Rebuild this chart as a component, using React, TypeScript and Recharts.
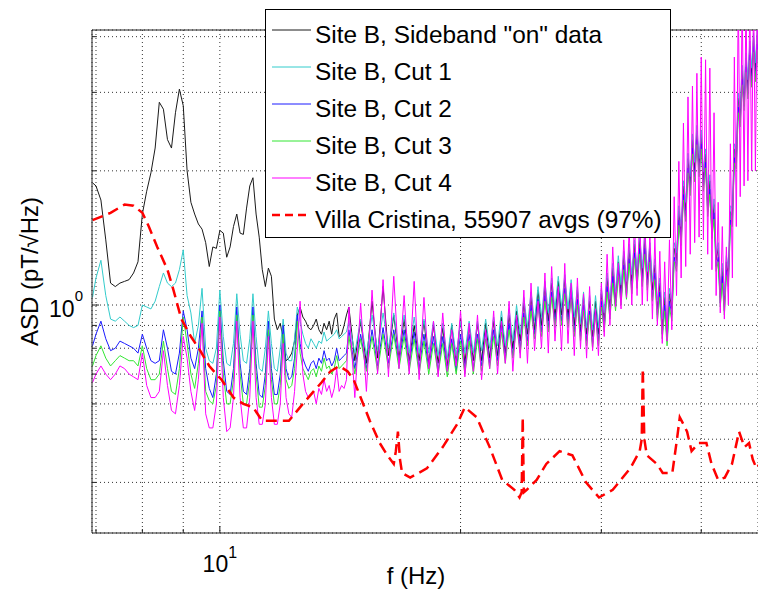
import { LineChart, Line, XAxis, YAxis, CartesianGrid, Legend, ReferenceLine, Label } from 'recharts'

// frequency grid (Hz): 0.1 Hz below 14.5 Hz, 0.25 Hz above
const freqs = [
  6.93, 7.0, 7.1, 7.2, 7.3, 7.4, 7.5, 7.6, 7.7, 7.8, 7.9,
  8.0, 8.1, 8.2, 8.3, 8.4, 8.5, 8.6, 8.7, 8.8, 8.9,
  9.0, 9.1, 9.2, 9.3, 9.4, 9.5, 9.6, 9.7, 9.8, 9.9,
  10.0, 10.1, 10.2, 10.3, 10.4, 10.5, 10.6, 10.7, 10.8, 10.9,
  11.0, 11.1, 11.2, 11.3, 11.4, 11.5, 11.6, 11.7, 11.8, 11.9,
  12.0, 12.1, 12.2, 12.3, 12.4, 12.5, 12.6, 12.7, 12.8, 12.9,
  13.0, 13.1, 13.2, 13.3, 13.4, 13.5, 13.6, 13.7, 13.8, 13.9,
  14.0, 14.1, 14.2, 14.3, 14.4, 14.5,
  14.75,
  15, 15.25, 15.5, 15.75, 16, 16.25, 16.5, 16.75, 17, 17.25, 17.5, 17.75,
  18, 18.25, 18.5, 18.75, 19, 19.25, 19.5, 19.75, 20, 20.25, 20.5, 20.75,
  21, 21.25, 21.5, 21.75, 22, 22.25, 22.5, 22.75, 23, 23.25, 23.5, 23.75,
  24, 24.25, 24.5, 24.75, 25, 25.25, 25.5, 25.75, 26, 26.25, 26.5, 26.75,
  27, 27.25, 27.5, 27.75, 28, 28.25, 28.5, 28.75, 29, 29.25, 29.5, 29.75,
  30, 30.25, 30.5, 30.75, 31, 31.25, 31.5, 31.75, 32, 32.25, 32.5, 32.75,
  33, 33.25, 33.5, 33.75, 34, 34.25, 34.5, 34.75, 35, 35.25, 35.5, 35.75,
  36, 36.25, 36.5, 36.75, 37, 37.25, 37.5, 37.75, 38, 38.25, 38.5, 38.75,
  39, 39.25, 39.5, 39.75, 40, 40.25, 40.5, 40.75, 41, 41.25, 41.5, 41.75,
  42, 42.25, 42.5, 42.75, 43, 43.25, 43.5, 43.75, 44, 44.25, 44.5, 44.75,
  45, 45.25, 45.5, 45.75, 46, 46.25, 46.5, 46.75, 47, 47.25,
]

const onData = [
  1.88, 1.85, 1.72, 1.40, 1.12, 1.10, 1.12, 1.13, 1.14, 1.18, 1.25,
  1.60, 1.80, 1.98, 2.25, 2.85, 2.75, 2.35, 2.25, 2.70, 3.05,
  2.80, 2.00, 1.70, 1.60, 1.52, 1.48, 1.38, 1.22, 1.35, 1.34,
  1.47, 1.45, 1.28, 1.35, 1.50, 1.60, 1.45, 1.44, 1.65, 1.85,
  1.93, 1.60, 1.42, 1.20, 1.10, 1.21, 1.16, 0.93, 0.88, 0.91,
  0.84, 0.75, 0.76, 0.78, 0.83, 0.95, 0.99, 0.94, 0.92, 0.89,
  0.88, 0.90, 0.93, 0.88, 0.86, 0.91, 0.88, 0.92, 0.86, 0.93,
  0.96, 0.85, 0.86, 0.90, 0.95, 0.99,
  0.75,
  0.92, 0.74, 1.02, 0.76, 1.10, 0.77, 0.95, 0.76, 0.93, 0.75, 0.90, 0.75,
  0.92, 0.74, 0.90, 0.74, 0.89, 0.73, 0.90, 0.74, 0.93, 0.74, 0.90, 0.75,
  0.91, 0.75, 0.91, 0.76, 0.92, 0.77, 0.94, 0.78, 0.95, 0.80, 0.97, 0.83,
  1.01, 0.86, 1.04, 0.88, 1.08, 0.90, 1.10, 0.92, 1.12, 0.94, 1.13, 0.95,
  1.14, 0.94, 1.11, 0.90, 1.08, 0.87, 1.04, 0.86, 1.02, 0.85, 1.02, 0.86,
  1.06, 0.92, 1.15, 0.99, 1.21, 1.02, 1.25, 1.06, 1.29, 1.09, 1.33, 1.13,
  1.37, 1.15, 1.40, 1.16, 1.40, 1.14, 1.34, 1.08, 1.23, 0.98, 1.12, 0.89,
  1.04, 0.86, 1.06, 0.98, 1.34, 1.26, 1.62, 1.44, 1.85, 1.63, 2.13, 1.86,
  2.35, 2.00, 2.46, 2.05, 2.41, 1.91, 2.18, 1.67, 1.90, 1.49, 1.68, 1.26,
  1.34, 1.04, 1.21, 1.00, 1.25, 1.16, 1.62, 1.58, 2.24, 2.14, 2.91, 2.65,
  3.36, 2.88, 3.58, 3.07, 3.81, 3.26, 3.98, 3.35, 4.03, 3.35,
]

const cut1 = [
  1.04, 1.15, 1.26, 1.05, 0.93, 0.92, 0.94, 0.92, 0.90, 0.89, 0.90,
  1.00, 0.99, 0.98, 1.02, 1.10, 1.18, 1.12, 1.10, 1.12, 1.20,
  1.33, 1.05, 0.96, 0.82, 0.90, 1.09, 0.80, 0.75, 0.74, 0.80,
  1.08, 0.85, 0.74, 0.73, 0.82, 1.06, 0.86, 0.75, 0.74, 0.84,
  1.06, 0.85, 0.72, 0.71, 0.80, 0.97, 0.82, 0.72, 0.71, 0.80,
  0.93, 0.78, 0.75, 0.75, 0.84, 0.99, 0.92, 0.86, 0.82, 0.80,
  0.84, 0.82, 0.80, 0.83, 0.82, 0.87, 0.83, 0.84, 0.85, 0.86,
  0.88, 0.84, 0.85, 0.86, 0.87, 0.92,
  0.78,
  0.93, 0.77, 0.95, 0.79, 0.96, 0.80, 0.96, 0.79, 0.95, 0.78, 0.94, 0.78,
  0.93, 0.78, 0.92, 0.77, 0.91, 0.76, 0.91, 0.77, 0.92, 0.78, 0.92, 0.78,
  0.92, 0.79, 0.93, 0.80, 0.94, 0.81, 0.97, 0.81, 0.98, 0.83, 1.00, 0.86,
  1.04, 0.89, 1.07, 0.92, 1.10, 0.94, 1.13, 0.96, 1.15, 0.98, 1.16, 0.99,
  1.17, 0.98, 1.14, 0.94, 1.10, 0.91, 1.07, 0.89, 1.05, 0.88, 1.05, 0.89,
  1.09, 0.96, 1.18, 1.03, 1.24, 1.07, 1.29, 1.11, 1.32, 1.13, 1.37, 1.17,
  1.40, 1.20, 1.44, 1.21, 1.44, 1.19, 1.38, 1.13, 1.27, 1.02, 1.15, 0.93,
  1.07, 0.89, 1.09, 1.02, 1.38, 1.31, 1.67, 1.50, 1.90, 1.70, 2.19, 1.94,
  2.42, 2.09, 2.53, 2.13, 2.47, 1.99, 2.24, 1.75, 1.96, 1.55, 1.73, 1.31,
  1.38, 1.09, 1.24, 1.05, 1.29, 1.21, 1.67, 1.65, 2.30, 2.23, 2.99, 2.76,
  3.45, 3.01, 3.68, 3.20, 3.91, 3.40, 4.08, 3.49, 4.14, 3.49,
]

const cut2 = [
  0.81, 0.86, 0.92, 0.84, 0.79, 0.80, 0.83, 0.82, 0.81, 0.80, 0.78,
  0.86, 0.80, 0.75, 0.74, 0.75, 0.88, 0.80, 0.71, 0.70, 0.78,
  0.97, 0.88, 0.76, 0.72, 0.80, 0.97, 0.72, 0.65, 0.62, 0.70,
  1.00, 0.75, 0.64, 0.63, 0.72, 0.99, 0.74, 0.64, 0.63, 0.72,
  0.99, 0.74, 0.63, 0.62, 0.70, 0.92, 0.72, 0.63, 0.63, 0.70,
  0.90, 0.72, 0.68, 0.69, 0.76, 0.95, 0.82, 0.76, 0.73, 0.71,
  0.74, 0.75, 0.72, 0.76, 0.74, 0.79, 0.75, 0.76, 0.73, 0.75,
  0.80, 0.75, 0.76, 0.77, 0.78, 0.88,
  0.72,
  0.86, 0.72, 0.88, 0.73, 0.89, 0.74, 0.88, 0.74, 0.88, 0.73, 0.87, 0.72,
  0.86, 0.72, 0.85, 0.71, 0.85, 0.71, 0.84, 0.71, 0.86, 0.72, 0.86, 0.72,
  0.86, 0.73, 0.87, 0.74, 0.88, 0.75, 0.90, 0.76, 0.91, 0.77, 0.93, 0.80,
  0.96, 0.83, 1.00, 0.86, 1.03, 0.87, 1.05, 0.89, 1.07, 0.91, 1.08, 0.92,
  1.09, 0.91, 1.06, 0.87, 1.03, 0.85, 1.00, 0.83, 0.97, 0.82, 0.97, 0.83,
  1.02, 0.89, 1.10, 0.95, 1.16, 0.99, 1.20, 1.03, 1.23, 1.05, 1.27, 1.09,
  1.31, 1.12, 1.34, 1.13, 1.34, 1.11, 1.28, 1.04, 1.18, 0.95, 1.07, 0.86,
  1.00, 0.83, 1.02, 0.95, 1.28, 1.22, 1.55, 1.40, 1.77, 1.58, 2.03, 1.80,
  2.25, 1.94, 2.35, 1.98, 2.30, 1.85, 2.09, 1.62, 1.82, 1.44, 1.61, 1.22,
  1.28, 1.01, 1.16, 0.97, 1.20, 1.13, 1.55, 1.53, 2.14, 2.07, 2.78, 2.57,
  3.21, 2.79, 3.42, 2.97, 3.64, 3.15, 3.80, 3.24, 3.85, 3.24,
]

const cut3 = [
  0.73, 0.77, 0.81, 0.76, 0.73, 0.75, 0.77, 0.76, 0.75, 0.75, 0.73,
  0.81, 0.72, 0.68, 0.68, 0.70, 0.83, 0.72, 0.64, 0.63, 0.72,
  0.94, 0.82, 0.70, 0.65, 0.74, 0.94, 0.64, 0.61, 0.60, 0.66,
  0.97, 0.70, 0.60, 0.60, 0.68, 0.95, 0.70, 0.60, 0.60, 0.68,
  0.95, 0.70, 0.59, 0.59, 0.66, 0.88, 0.68, 0.60, 0.60, 0.66,
  0.86, 0.68, 0.65, 0.66, 0.72, 0.92, 0.78, 0.72, 0.70, 0.68,
  0.71, 0.72, 0.69, 0.73, 0.71, 0.76, 0.72, 0.73, 0.70, 0.72,
  0.77, 0.72, 0.73, 0.74, 0.75, 0.85,
  0.70,
  0.84, 0.71, 0.85, 0.71, 0.86, 0.72, 0.86, 0.72, 0.85, 0.71, 0.84, 0.70,
  0.83, 0.70, 0.82, 0.70, 0.82, 0.69, 0.82, 0.70, 0.83, 0.70, 0.83, 0.70,
  0.84, 0.71, 0.84, 0.72, 0.85, 0.73, 0.87, 0.74, 0.88, 0.76, 0.90, 0.78,
  0.94, 0.81, 0.97, 0.84, 1.00, 0.85, 1.02, 0.87, 1.04, 0.89, 1.05, 0.90,
  1.06, 0.89, 1.03, 0.85, 1.00, 0.83, 0.97, 0.81, 0.95, 0.80, 0.95, 0.81,
  0.99, 0.87, 1.07, 0.93, 1.12, 0.97, 1.16, 1.00, 1.20, 1.03, 1.24, 1.06,
  1.27, 1.09, 1.30, 1.10, 1.30, 1.08, 1.25, 1.02, 1.14, 0.92, 1.04, 0.84,
  0.97, 0.81, 0.99, 0.92, 1.25, 1.19, 1.51, 1.36, 1.72, 1.54, 1.98, 1.76,
  2.18, 1.89, 2.29, 1.94, 2.24, 1.80, 2.03, 1.58, 1.77, 1.41, 1.56, 1.19,
  1.25, 0.99, 1.12, 0.95, 1.16, 1.10, 1.51, 1.50, 2.08, 2.02, 2.70, 2.51,
  3.12, 2.73, 3.33, 2.90, 3.54, 3.08, 3.69, 3.17, 3.74, 3.17,
]

const cut4 = [
  0.67, 0.70, 0.73, 0.70, 0.68, 0.70, 0.73, 0.72, 0.70, 0.69, 0.68,
  0.78, 0.66, 0.62, 0.62, 0.64, 0.79, 0.66, 0.58, 0.57, 0.66,
  0.85, 0.76, 0.64, 0.58, 0.68, 0.91, 0.57, 0.53, 0.53, 0.60,
  0.94, 0.62, 0.52, 0.53, 0.62, 0.92, 0.62, 0.53, 0.53, 0.62,
  0.92, 0.62, 0.54, 0.54, 0.60, 0.85, 0.62, 0.54, 0.54, 0.60,
  0.82, 0.62, 0.57, 0.56, 0.64, 0.80, 1.02, 0.70, 0.64, 0.62,
  0.63, 0.64, 0.60, 0.65, 0.63, 0.68, 0.64, 0.66, 0.62, 0.65,
  0.72, 0.64, 0.66, 0.65, 0.68, 0.99,
  0.62,
  1.01, 0.64, 1.08, 0.70, 1.14, 0.69, 1.16, 0.72, 1.05, 0.70, 1.13, 0.68,
  1.04, 0.72, 0.92, 0.69, 0.96, 0.71, 0.88, 0.73, 0.97, 0.69, 0.91, 0.71,
  0.95, 0.68, 0.88, 0.72, 0.97, 0.70, 0.92, 0.74, 1.02, 0.71, 0.95, 0.76,
  1.08, 0.74, 1.12, 0.79, 1.02, 0.80, 1.18, 0.78, 1.22, 0.83, 1.10, 0.79,
  1.24, 0.82, 1.12, 0.77, 1.15, 0.80, 1.06, 0.76, 1.10, 0.79, 0.98, 0.77,
  1.12, 0.85, 1.30, 0.90, 1.35, 0.99, 1.24, 0.98, 1.40, 1.04, 1.48, 1.00,
  1.55, 1.05, 1.60, 1.00, 1.58, 1.02, 1.45, 0.93, 1.42, 0.90, 1.32, 0.82,
  1.25, 0.83, 1.40, 0.88, 1.75, 1.05, 2.10, 1.15, 2.56, 1.22, 2.93, 1.30,
  3.10, 1.38, 3.31, 1.42, 3.60, 1.40, 3.55, 1.30, 3.40, 1.20, 2.70, 1.05,
  1.70, 0.96, 1.50, 0.93, 1.35, 1.00, 2.30, 1.15, 3.60, 1.50, 5.00, 1.75,
  5.00, 1.85, 5.00, 1.90, 5.00, 2.00, 5.00, 2.00, 5.00, 2.00,
]

// Villa Cristina reference spectrum (own frequency grid)
const villaFreqs = [
  6.93, 7.3, 7.6, 7.8, 8.0, 8.15, 8.35, 8.6, 8.75, 8.95, 9.2, 9.45, 9.7, 9.9,
  10.05, 10.4, 10.7, 11.0, 11.3, 11.8, 12.2, 12.7, 13.1, 13.4, 13.75, 14.1,
  14.45, 14.7, 15.0, 15.4, 15.85, 16.2, 16.5, 16.6, 16.7, 16.8, 16.9, 17.3,
  18.15, 19.0, 19.8, 20.25, 20.95, 21.75, 22.55, 23.35, 23.7, 23.85, 23.92,
  24.0, 24.2, 24.9, 25.6, 26.6, 27.6, 28.7, 29.8, 31.0, 32.6, 33.5, 33.7,
  33.8, 33.95, 34.2, 35.2, 35.8, 36.8, 37.3, 37.6, 38.0, 38.4, 38.9, 39.7,
  40.6, 41.2, 42.0, 42.8, 43.7, 44.6, 45.3, 45.9, 46.4, 46.9, 47.3,
]
const villaAsd = [
  1.55, 1.61, 1.68, 1.67, 1.61, 1.50, 1.35, 1.20, 1.08, 0.93, 0.85, 0.79, 0.73, 0.70,
  0.68, 0.62, 0.60, 0.59, 0.55, 0.55, 0.55, 0.60, 0.64, 0.67, 0.71, 0.73,
  0.71, 0.68, 0.62, 0.55, 0.49, 0.46, 0.44, 0.47, 0.52, 0.45, 0.42, 0.41,
  0.43, 0.48, 0.54, 0.59, 0.56, 0.48, 0.405, 0.385, 0.37, 0.38, 0.56,
  0.38, 0.385, 0.405, 0.44, 0.47, 0.46, 0.40, 0.37, 0.385, 0.43, 0.47, 0.50,
  0.72, 0.50, 0.46, 0.44, 0.42, 0.42, 0.50, 0.56, 0.54, 0.52, 0.47, 0.49,
  0.49, 0.44, 0.405, 0.41, 0.44, 0.52, 0.48, 0.49, 0.45, 0.43, 0.44,
]

const xTicks = [7, 8, 9, 10, 20, 30, 40]
const yTicks = [0.4, 0.5, 0.6, 0.7, 0.8, 0.9, 1, 2, 3, 4]
const xDomain = [6.92, 47.1]
const yDomain = [0.308, 4.14]

const FONT = '"Liberation Sans", Arial, Helvetica, sans-serif'

const toRows = (fs: number[], vs: number[]) => fs.map((f, i) => ({ f, v: vs[i] }))

const series = [
  { key: 'on', name: 'Site B, Sideband "on" data', color: '#1a1a1a', values: onData },
  { key: 'c1', name: 'Site B, Cut 1', color: '#33cccc', values: cut1 },
  { key: 'c2', name: 'Site B, Cut 2', color: '#1a1aff', values: cut2 },
  { key: 'c3', name: 'Site B, Cut 3', color: '#33e633', values: cut3 },
  { key: 'c4', name: 'Site B, Cut 4', color: '#ff00ff', values: cut4 },
]
const villa = { name: 'Villa Cristina, 55907 avgs (97%)', color: '#ff0000', dash: '11 6' }

function XTick({ x, y, payload }: any) {
  const major = payload.value === 10
  return (
    <g>
      <line x1={x} x2={x} y1={y} y2={y - (major ? 7 : 4)} stroke="#222" />
      {major && (
        <text x={x} y={y + 39} textAnchor="middle" fontSize={23} fontFamily={FONT} fill="#000">
          10<tspan dy={-14} fontSize={16}>1</tspan>
        </text>
      )}
    </g>
  )
}

function YTick({ x, y, payload }: any) {
  const major = payload.value === 1
  return (
    <g>
      <line x1={x} x2={x + (major ? 7 : 4)} y1={y} y2={y} stroke="#222" />
      {major && (
        <text x={x - 9} y={y + 12} textAnchor="end" fontSize={23} fontFamily={FONT} fill="#000">
          10<tspan dy={-16} fontSize={15}>0</tspan>
        </text>
      )}
    </g>
  )
}

function XLabel({ viewBox }: any) {
  return (
    <text x={viewBox.x + viewBox.width / 2 - 9} y={viewBox.y + 51} textAnchor="middle" fontSize={24} fontFamily={FONT} fill="#000">
      f (Hz)
    </text>
  )
}

function YLabel({ viewBox }: any) {
  const cx = viewBox.x + 29
  const cy = viewBox.y + viewBox.height / 2 - 10
  return (
    <text x={cx} y={cy} transform={`rotate(-90, ${cx}, ${cy})`} textAnchor="middle" dominantBaseline="central" fontSize={24} fontFamily={FONT} fill="#000">
      ASD (pT/√Hz)
    </text>
  )
}

function LegendBox() {
  const rows = [
    ...series.map((s) => ({ name: s.name, color: s.color, dash: undefined as string | undefined, width: 1 })),
    { name: villa.name, color: villa.color, dash: '8 5', width: 2.5 },
  ]
  return (
    <div
      style={{
        width: 406,
        height: 229,
        boxSizing: 'border-box',
        border: '1px solid #000',
        background: '#fff',
        paddingTop: 6,
        fontFamily: FONT,
        fontSize: 24.4,
        color: '#000',
        overflow: 'hidden',
      }}
    >
      {rows.map((r) => (
        <div key={r.name} style={{ display: 'flex', alignItems: 'center', height: 37, whiteSpace: 'nowrap' }}>
          <svg width={49} height={37} style={{ flex: 'none' }}>
            <line x1={6} x2={45} y1={14} y2={14} stroke={r.color} strokeWidth={r.width} strokeDasharray={r.dash} />
          </svg>
          <span style={{ lineHeight: '37px' }}>{r.name}</span>
        </div>
      ))}
    </div>
  )
}

export default function App() {
  return (
    <div style={{ position: 'absolute', left: 0, top: 0, width: 758, height: 594, background: '#fff' }}>
      <LineChart width={758} height={594} margin={{ top: 30, right: 0, bottom: 0, left: 0 }}>
        <CartesianGrid stroke="#333" strokeDasharray="1 3" />
        <XAxis
          dataKey="f"
          type="number"
          scale="log"
          domain={xDomain}
          allowDataOverflow
          ticks={xTicks}
          interval={0}
          height={61}
          tickSize={0}
          tickMargin={0}
          tickLine={false}
          tick={<XTick />}
          axisLine={{ stroke: '#222' }}
        >
          <Label content={<XLabel />} />
        </XAxis>
        <YAxis
          type="number"
          scale="log"
          domain={yDomain}
          allowDataOverflow
          ticks={yTicks}
          interval={0}
          width={92}
          tickSize={0}
          tickMargin={0}
          tickLine={false}
          tick={<YTick />}
          axisLine={{ stroke: '#222' }}
        >
          <Label content={<YLabel />} />
        </YAxis>
        <ReferenceLine y={yDomain[1]} stroke="#222" />
        {series.map((s) => (
          <Line
            key={s.key}
            data={toRows(freqs, s.values)}
            dataKey="v"
            name={s.name}
            type="linear"
            stroke={s.color}
            strokeWidth={1}
            dot={false}
            activeDot={false}
            isAnimationActive={false}
          />
        ))}
        <Line
          data={toRows(villaFreqs, villaAsd)}
          dataKey="v"
          name={villa.name}
          type="linear"
          stroke={villa.color}
          strokeWidth={2.5}
          strokeDasharray={villa.dash}
          dot={false}
          activeDot={false}
          isAnimationActive={false}
        />
        <Legend
          layout="vertical"
          align="center"
          verticalAlign="middle"
          wrapperStyle={{ left: 265, top: 9, width: 406, height: 229 }}
          content={<LegendBox />}
        />
      </LineChart>
    </div>
  )
}
